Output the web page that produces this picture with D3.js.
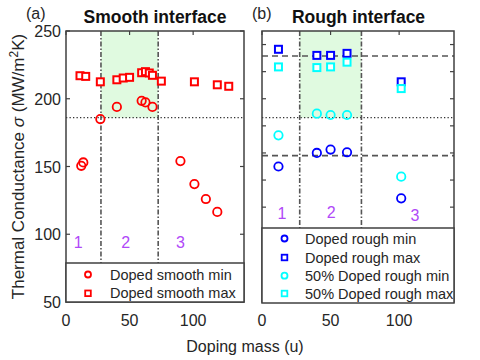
<!DOCTYPE html>
<html><head><meta charset="utf-8">
<script src="https://cdn.jsdelivr.net/npm/d3@7"></script>
<style>body{margin:0;background:#fff}svg{display:block;font-family:"Liberation Sans",Arial,sans-serif}</style>
</head><body><svg id="c" width="480" height="360"></svg>
<script>
// ---- data ----
const smoothMinMass = [12, 13.6, 27, 40, 59.5, 62.5, 68, 90, 101, 110, 119];
const smoothMinVal  = [150.5, 153, 185, 194, 198.5, 197.3, 194, 154, 137, 126, 116.5];
const smoothMaxMass = [11, 15.5, 27, 40, 45, 50, 59.5, 62.5, 65.5, 68, 75, 101, 119, 128];
const smoothMaxVal  = [217, 216.5, 212.5, 214, 215.3, 215.8, 219.2, 220, 219, 217.3, 213, 212.5, 210.3, 209.2];
const roughMass     = [12, 40, 50, 62, 101.5];
const roughMinVal   = [150, 160, 162.5, 160.5, 126.5];
const roughMaxVal   = [236.5, 232, 232, 233.5, 212.5];
const half50MinVal  = [173, 189, 188, 188, 142.5];
const half50MaxVal  = [223.5, 223, 223.5, 227, 207.5];
const regionBounds  = [27.5, 72.5];
const dottedLevel   = 186;
const roughDashed   = [231.5, 158];
const yTicksLeft    = [50, 100, 150, 200, 250];
const yTicksRight   = [60, 80, 100, 120, 140, 160, 180, 200, 220, 240];
const xTicks        = [0, 50, 100];
const regionLabels  = ["1", "2", "3"];
const regionPosLeft = [[9.5, 90], [47, 90], [90, 90]];
const regionPosRight= [[14.5, 111.5], [50.5, 112], [111.5, 109.5]];

const svg = d3.select("#c");
const axisCol = "#404040", textCol = "#262626", purple = "#b048f8", green = "#e0fae0";
const y = d3.scaleLinear().domain([50, 250]).range([302, 31]);
const xL = d3.scaleLinear().domain([0, 140]).range([66, 244]);
const xR = d3.scaleLinear().domain([0, 140]).range([262, 454]);

function panel(x, cfg) {
  const g = svg.append("g");
  const [x0, x1] = x.range();
  const legTop = cfg.legTop;
  g.append("rect").attr("x", x(regionBounds[0])).attr("y", y(250))
    .attr("width", x(regionBounds[1]) - x(regionBounds[0]))
    .attr("height", y(dottedLevel) - y(250)).attr("fill", green);
  g.append("line").attr("x1", x0).attr("x2", x1).attr("y1", y(dottedLevel)).attr("y2", y(dottedLevel))
    .attr("stroke", "#333").attr("stroke-width", 1.3).attr("stroke-dasharray", "1.3,2.2");
  (cfg.dashed || []).forEach(v => {
    g.append("line").attr("x1", x0).attr("x2", x1).attr("y1", y(v)).attr("y2", y(v))
      .attr("stroke", "#555").attr("stroke-width", 1.6).attr("stroke-dasharray", "6,4");
  });
  regionBounds.forEach(b => {
    g.append("line").attr("x1", x(b)).attr("x2", x(b)).attr("y1", y(250)).attr("y2", legTop)
      .attr("stroke", "#555").attr("stroke-width", 1.6).attr("stroke-dasharray", "5,2,1.5,2");
  });
  g.append("rect").attr("x", x0).attr("y", y(250)).attr("width", x1 - x0).attr("height", y(50) - y(250))
    .attr("fill", "none").attr("stroke", axisCol).attr("stroke-width", 1.5);
  cfg.yTicks.forEach(t => {
    g.append("line").attr("x1", x0).attr("x2", x0 + 4).attr("y1", y(t)).attr("y2", y(t)).attr("stroke", axisCol).attr("stroke-width", 1.2);
    g.append("line").attr("x1", x1).attr("x2", x1 - 4).attr("y1", y(t)).attr("y2", y(t)).attr("stroke", axisCol).attr("stroke-width", 1.2);
  });
  xTicks.forEach(t => {
    g.append("line").attr("x1", x(t)).attr("x2", x(t)).attr("y1", y(250)).attr("y2", y(250) + 4).attr("stroke", axisCol).attr("stroke-width", 1.2);
    g.append("text").attr("x", x(t)).attr("y", 326).attr("text-anchor", "middle")
      .attr("font-size", 16).attr("fill", textCol).text(t);
  });
  if (cfg.yLabels) {
    cfg.yTicks.forEach(t => {
      g.append("text").attr("x", x0 - 5).attr("y", y(t) + 6).attr("text-anchor", "end")
        .attr("font-size", 16).attr("fill", textCol).text(t);
    });
  }
  cfg.regionPos.forEach((p, i) => {
    g.append("text").attr("x", x(p[0])).attr("y", y(p[1])).attr("text-anchor", "middle")
      .attr("font-size", 16).attr("fill", purple).text(regionLabels[i]);
  });
  return g;
}

function circles(g, x, xs, ys, col) {
  g.selectAll(null).data(xs.map((m, i) => [m, ys[i]])).enter().append("circle")
    .attr("cx", d => x(d[0])).attr("cy", d => y(d[1])).attr("r", 4.2)
    .attr("fill", "none").attr("stroke", col).attr("stroke-width", 1.8);
}
function squares(g, x, xs, ys, col) {
  const s = 7;
  g.selectAll(null).data(xs.map((m, i) => [m, ys[i]])).enter().append("rect")
    .attr("x", d => x(d[0]) - s / 2).attr("y", d => y(d[1]) - s / 2).attr("width", s).attr("height", s)
    .attr("fill", "#fff").attr("stroke", col).attr("stroke-width", 2);
}
function legend(g, x0, x1, top, bottom, items) {
  g.append("rect").attr("x", x0).attr("y", top).attr("width", x1 - x0).attr("height", bottom - top)
    .attr("fill", "#fff").attr("stroke", axisCol).attr("stroke-width", 1.5);
  items.forEach(it => {
    if (it.shape === "c") {
      g.append("circle").attr("cx", it.mx).attr("cy", it.y).attr("r", 3).attr("fill", "none")
        .attr("stroke", it.col).attr("stroke-width", 1.8);
    } else {
      g.append("rect").attr("x", it.mx - 2.8).attr("y", it.y - 2.8).attr("width", 5.6).attr("height", 5.6)
        .attr("fill", "#fff").attr("stroke", it.col).attr("stroke-width", 1.8);
    }
    g.append("text").attr("x", it.tx).attr("y", it.y + 5).attr("font-size", 14.5).attr("fill", textCol).text(it.label);
  });
}

const gL = panel(xL, { legTop: 263, yTicks: yTicksLeft, yLabels: true, regionPos: regionPosLeft });
circles(gL, xL, smoothMinMass, smoothMinVal, "#ff0000");
squares(gL, xL, smoothMaxMass, smoothMaxVal, "#ff0000");
legend(gL, 66, 244, 263, 302, [
  { shape: "c", col: "#ff0000", label: "Doped smooth min", mx: 88, tx: 110, y: 274.5 },
  { shape: "s", col: "#ff0000", label: "Doped smooth max", mx: 88, tx: 110, y: 293.3 }
]);

const gR = panel(xR, { legTop: 228, yTicks: yTicksRight, yLabels: false, regionPos: regionPosRight, dashed: roughDashed });
circles(gR, xR, roughMass, roughMinVal, "#0000ff");
squares(gR, xR, roughMass, roughMaxVal, "#0000ff");
circles(gR, xR, roughMass, half50MinVal, "#00ffff");
squares(gR, xR, roughMass, half50MaxVal, "#00ffff");
legend(gR, 262, 454, 228, 303, [
  { shape: "c", col: "#0000ff", label: "Doped rough min", mx: 284.5, tx: 305, y: 238.5 },
  { shape: "s", col: "#0000ff", label: "Doped rough max", mx: 284.5, tx: 305, y: 257.5 },
  { shape: "c", col: "#00ffff", label: "50% Doped rough min", mx: 284.5, tx: 305, y: 275.7 },
  { shape: "s", col: "#00ffff", label: "50% Doped rough max", mx: 284.5, tx: 305, y: 293.5 }
]);

svg.append("text").attr("x", 155).attr("y", 22.5).attr("text-anchor", "middle").attr("font-size", 17.5)
  .attr("font-weight", "bold").attr("fill", "#111").text("Smooth interface");
svg.append("text").attr("x", 358.5).attr("y", 22.5).attr("text-anchor", "middle").attr("font-size", 17.5)
  .attr("font-weight", "bold").attr("fill", "#111").text("Rough interface");
svg.append("text").attr("x", 26).attr("y", 19).attr("font-size", 16).attr("fill", textCol).text("(a)");
svg.append("text").attr("x", 252).attr("y", 19).attr("font-size", 16).attr("fill", textCol).text("(b)");

svg.append("text").attr("x", 245).attr("y", 352).attr("text-anchor", "middle").attr("font-size", 16)
  .attr("fill", textCol).text("Doping mass (u)");
const yl = svg.append("text").attr("transform", "translate(24,166.5) rotate(-90)").attr("text-anchor", "middle")
  .attr("font-size", 17).attr("fill", textCol);
yl.append("tspan").text("Thermal Conductance ");
yl.append("tspan").attr("font-style", "italic").text("σ");
yl.append("tspan").text(" (MW/m");
yl.append("tspan").attr("font-size", 12).attr("dy", -6).text("2");
yl.append("tspan").attr("dy", 6).text("K)");
</script></body></html>
